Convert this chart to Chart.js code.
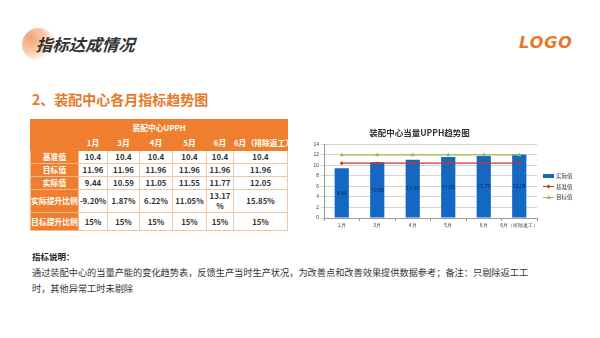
<!DOCTYPE html>
<html>
<head>
<meta charset="utf-8">
<script src="https://cdn.jsdelivr.net/npm/chart.js@4"></script>
<style>
  html, body { margin: 0; padding: 0; background: #fff; }
  body { width: 600px; height: 338px; position: relative; overflow: hidden;
         font-family: "Noto Sans CJK SC", "Noto Sans", sans-serif; color: #333; }
  .dot { position: absolute; left: 22px; top: 28px; width: 33px; height: 33px; border-radius: 50%;
         background: radial-gradient(circle at 25% 30%, #f2a574 0%, #f7c9a8 40%, rgba(255,255,255,0) 75%); }
  .head { position: absolute; left: 36px; top: 32px; font-size: 16.5px; font-weight: 700; font-style: italic;
          color: #333; transform: skewX(-4deg); }
  .logo { position: absolute; left: 519px; top: 33px; font-family: "DejaVu Sans", sans-serif; font-size: 16px;
          font-weight: 700; font-style: italic; color: #e47a2c; letter-spacing: 1px; }
  .sec { position: absolute; left: 32px; top: 89px; font-size: 14px; font-weight: 700; color: #e8782a; }
  table { position: absolute; left: 30px; top: 119px; width: 257px; border-collapse: collapse; table-layout: fixed;
          font-size: 7.8px; font-weight: 700; text-align: center; }
  td { border: 1px solid #f3c6a5; padding: 0; line-height: 10px; background: #fff; color: #333;
       white-space: nowrap; }
  td.wrap { white-space: normal; overflow-wrap: anywhere; padding: 0 2px; }
  td.lab { background: #ef7e2e; color: #fff; border-color: #f6b98d; }
  tr.top td { background: #ef7e2e; color: #fff; border-color: #ef7e2e; }
  .note-t { position: absolute; left: 32px; top: 250px; font-size: 8.5px; font-weight: 700; color: #222; }
  .note { position: absolute; left: 32px; top: 264px; font-size: 9.2px; line-height: 16px; color: #333; }
  #wrap { position: absolute; left: 298px; top: 116px; width: 294px; height: 125px; }
  .leg { position: absolute; left: 543px; top: 171px; font-size: 5.5px; color: #333; }
  .leg-item { display: flex; align-items: center; height: 10.5px; }
  .leg-key { position: relative; width: 11px; height: 6px; margin-right: 2px; }
</style>
</head>
<body>
<div class="dot"></div>
<div class="head">指标达成情况</div>
<div class="logo">LOGO</div>
<div class="sec">2、装配中心各月指标趋势图</div>

<table id="tbl"></table>

<div id="wrap"><canvas id="upph"></canvas></div>
<div class="leg" id="legend"></div>

<div class="note-t">指标说明：</div>
<div class="note">通过装配中心的当量产能的变化趋势表，反馈生产当时生产状况，为改善点和改善效果提供数据参考；备注：只剔除返工工<br>时，其他异常工时未剔除</div>

<script>
// 装配中心 UPPH 数据
const months      = ['1月', '3月', '4月', '5月', '6月', '6月（排除返工）'];
const baseVals    = [10.4, 10.4, 10.4, 10.4, 10.4, 10.4];
const targetVals  = [11.96, 11.96, 11.96, 11.96, 11.96, 11.96];
const actualVals  = [9.44, 10.59, 11.05, 11.55, 11.77, 12.05];
const actualRise  = ['-9.20%', '1.87%', '6.22%', '11.05%', '13.17%', '15.85%'];
const targetRise  = ['15%', '15%', '15%', '15%', '15%', '15%'];
const yTicks      = [0, 2, 4, 6, 8, 10, 12, 14];

const BLUE  = '#1467c2';
const RED   = '#c0392b';
const GREEN = '#9bbb59';

// ── 表格 ─────────────────────────────────────────
const colW = [48, 29, 32, 33, 34, 27, 54];
const rowH = [16, 15, 13, 13, 13, 23, 18];
function buildTable() {
  const fmt = v => String(v);
  const rows = [
    ['基准值', baseVals.map(fmt)],
    ['目标值', targetVals.map(fmt)],
    ['实际值', actualVals.map(fmt)],
    ['实际提升比例', actualRise],
    ['目标提升比例', targetRise]
  ];
  let html = '<colgroup>' + colW.map(w => `<col style="width:${w}px">`).join('') + '</colgroup>';
  html += `<tr class="top" style="height:${rowH[0]}px"><td colspan="7">装配中心UPPH</td></tr>`;
  html += `<tr class="top" style="height:${rowH[1]}px"><td></td>` + months.map(m => `<td>${m}</td>`).join('') + '</tr>';
  rows.forEach((r, i) => {
    // 6月那一列较窄，允许换行
    html += `<tr style="height:${rowH[i + 2]}px"><td class="lab">${r[0]}</td>` +
            r[1].map((v, j) => `<td${j === 4 ? ' class="wrap"' : ''}>${v}</td>`).join('') + '</tr>';
  });
  document.getElementById('tbl').innerHTML = html;
}
buildTable();

// ── 图例 ─────────────────────────────────────────
function makeLegend(id, items) {
  document.getElementById(id).innerHTML = items.map(i => {
    let key;
    if (i.type === 'bar') {
      key = `<span class="leg-key"><span style="position:absolute;left:0;top:1px;width:11px;height:4px;background:${i.color}"></span></span>`;
    } else {
      const mk = i.type === 'tri'
        ? `<span style="position:absolute;left:3.5px;top:0.5px;width:0;height:0;border-left:2px solid transparent;border-right:2px solid transparent;border-bottom:4px solid ${i.color}"></span>`
        : `<span style="position:absolute;left:4px;top:1.5px;width:3px;height:3px;background:${i.color};transform:rotate(45deg)"></span>`;
      key = `<span class="leg-key"><span style="position:absolute;left:0;top:2.5px;width:11px;height:1px;background:${i.color}"></span>${mk}</span>`;
    }
    return `<span class="leg-item">${key}${i.label}</span>`;
  }).join('');
}
makeLegend('legend', [
  { label: '实际值', color: BLUE,  type: 'bar' },
  { label: '基准值', color: RED,   type: 'dia' },
  { label: '目标值', color: GREEN, type: 'tri' }
]);

// 柱内数值标签
const barLabels = {
  id: 'barLabels',
  afterDatasetsDraw(chart) {
    const ctx = chart.ctx;
    const meta = chart.getDatasetMeta(0);
    ctx.save();
    ctx.font = '5px "Noto Sans", sans-serif';
    ctx.fillStyle = '#0d2550';
    ctx.textAlign = 'center';
    ctx.textBaseline = 'middle';
    meta.data.forEach((bar, i) => {
      const y0 = chart.scales.y.getPixelForValue(actualVals[i] / 2);
      ctx.fillText(actualVals[i].toFixed(2), bar.x, y0);
    });
    ctx.restore();
  }
};

// ── 柱线组合图 ───────────────────────────────────
new Chart(document.getElementById('upph'), {
  type: 'bar',
  data: {
    labels: months,
    datasets: [
      { type: 'bar', label: '实际值', data: actualVals, backgroundColor: BLUE, borderWidth: 0,
        barPercentage: 0.4, categoryPercentage: 1, order: 3 },
      { type: 'line', label: '基准值', data: baseVals, borderColor: RED, borderWidth: 1.2,
        pointStyle: 'rectRot', pointRadius: 2, pointBackgroundColor: RED, pointBorderWidth: 0, order: 2 },
      { type: 'line', label: '目标值', data: targetVals, borderColor: GREEN, borderWidth: 1.2,
        pointStyle: 'triangle', pointRadius: 2.5, pointBackgroundColor: GREEN, pointBorderWidth: 0, order: 1 }
    ]
  },
  options: {
    responsive: true,
    maintainAspectRatio: false,
    animation: false,
    layout: { padding: { left: 4, right: 55, top: 4, bottom: 9 } },
    plugins: {
      legend: { display: false },
      tooltip: { enabled: false },
      title: { display: true, text: '装配中心当量UPPH趋势图', color: '#333',
               font: { size: 8.5, weight: 'bold', family: '"Noto Sans CJK SC", sans-serif' },
               padding: { top: 8, bottom: 6 } }
    },
    scales: {
      x: {
        offset: true,
        grid: { display: true, drawOnChartArea: false, offset: true, tickLength: 3, color: '#999' },
        border: { color: '#999' },
        ticks: { color: '#444', font: { size: 5 }, padding: 2, maxRotation: 0, autoSkip: false },
        afterFit: s => { s.height = 14; }
      },
      y: {
        min: 0, max: 14,
        afterBuildTicks: s => { s.ticks = yTicks.map(v => ({ value: v })); },
        grid: { color: '#c8c8c8', tickLength: 3, lineWidth: 0.8 },
        border: { color: '#999' },
        ticks: { color: '#444', font: { size: 5 }, padding: 2 },
        afterFit: s => { s.width = 22; }
      }
    }
  },
  plugins: [barLabels]
});
</script>
</body>
</html>
